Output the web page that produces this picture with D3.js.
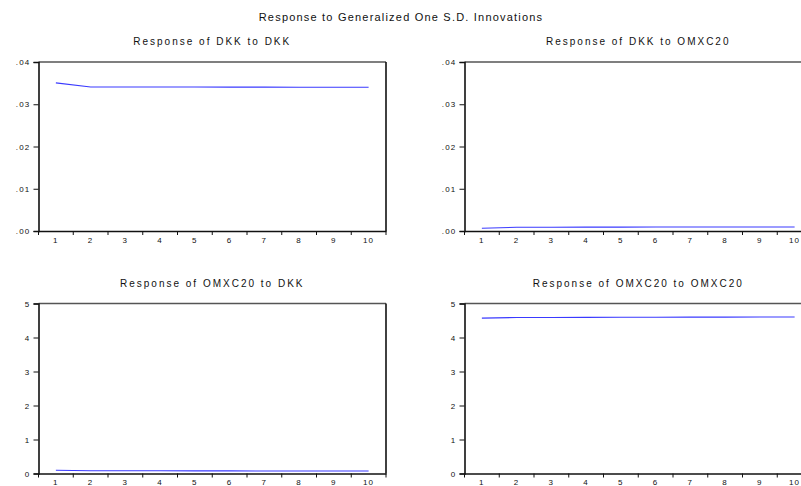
<!DOCTYPE html>
<html>
<head>
<meta charset="utf-8">
<script src="https://cdn.jsdelivr.net/npm/d3@7"></script>
<style>
  html, body { margin: 0; padding: 0; background: #fff; }
  svg { display: block; font-family: "Liberation Sans", Arial, sans-serif; }
</style>
</head>
<body>
<svg id="chart" width="801" height="486"></svg>
<script>
// Impulse response horizons
const periods = [1, 2, 3, 4, 5, 6, 7, 8, 9, 10];

// Responses to generalized one S.D. innovations
const dkkToDkk       = [0.03506, 0.03410, 0.03408, 0.03408, 0.03407, 0.03405, 0.03405, 0.03404, 0.03403, 0.03402];
const dkkToOmxc20    = [0.00065, 0.00088, 0.00090, 0.00091, 0.00092, 0.00093, 0.00094, 0.00094, 0.00095, 0.00096];
const omxc20ToDkk    = [0.095, 0.082, 0.080, 0.079, 0.077, 0.076, 0.075, 0.074, 0.073, 0.072];
const omxc20ToOmxc20 = [4.570, 4.588, 4.590, 4.592, 4.594, 4.596, 4.598, 4.600, 4.602, 4.604];

// Axis ticks
const ticksSmall = [0, 0.01, 0.02, 0.03, 0.04];
const ticksLarge = [0, 1, 2, 3, 4, 5];

const mainTitle = "Response to Generalized One S.D. Innovations";

const panels = [
  { title: "Response of DKK to DKK",       values: dkkToDkk,       ticks: ticksSmall, domain: [0, 0.04], fmt: d => d3.format(".2f")(d).replace(/^0/, ""), col: 0, row: 0 },
  { title: "Response of DKK to OMXC20",    values: dkkToOmxc20,    ticks: ticksSmall, domain: [0, 0.04], fmt: d => d3.format(".2f")(d).replace(/^0/, ""), col: 1, row: 0 },
  { title: "Response of OMXC20 to DKK",    values: omxc20ToDkk,    ticks: ticksLarge, domain: [0, 5],    fmt: d3.format("d"), col: 0, row: 1 },
  { title: "Response of OMXC20 to OMXC20", values: omxc20ToOmxc20, ticks: ticksLarge, domain: [0, 5],    fmt: d3.format("d"), col: 1, row: 1 }
];

const svg = d3.select("#chart");

svg.append("text")
  .attr("x", 401).attr("y", 21)
  .attr("text-anchor", "middle")
  .attr("font-size", 11)
  .attr("letter-spacing", 1.2)
  .attr("fill", "#111")
  .text(mainTitle);

const cellW = 426, plotW = 347.5;
const layout = [
  { top: 62,  height: 169 },
  { top: 303.5, height: 170 }
];

panels.forEach(p => {
  const x0 = 38.5 + p.col * cellW;
  const L = layout[p.row];
  const g = svg.append("g").attr("transform", `translate(${x0},${L.top})`);

  const x = d3.scaleBand().domain(periods).range([0, plotW]).padding(0);
  const y = d3.scaleLinear().domain(p.domain).range([L.height, 0]);

  // subplot title
  g.append("text")
    .attr("x", plotW / 2).attr("y", -17)
    .attr("text-anchor", "middle")
    .attr("font-size", 10)
    .attr("letter-spacing", 2)
    .attr("fill", "#111")
    .text(p.title);

  // frame: top and right
  g.append("line").attr("x1", 0).attr("x2", plotW).attr("y1", 0).attr("y2", 0)
    .attr("stroke", "#555").attr("stroke-width", 1.6);
  g.append("line").attr("x1", plotW).attr("x2", plotW).attr("y1", 0).attr("y2", L.height)
    .attr("stroke", "#111").attr("stroke-width", 1.6);

  // y axis
  const ya = g.append("g").call(d3.axisLeft(y).tickValues(p.ticks).tickFormat(p.fmt).tickSize(5).tickPadding(3));
  ya.select(".domain").attr("stroke", "#111").attr("stroke-width", 1.6);
  ya.selectAll(".tick line").attr("stroke", "#111").attr("stroke-width", 1);
  ya.selectAll("text").attr("font-size", 8).attr("letter-spacing", 1.2)
    .attr("font-family", "Liberation Sans, Arial, sans-serif").attr("fill", "#111");

  // x axis: labels centred in each period, ticks at period boundaries
  const xa = g.append("g").attr("transform", `translate(0,${L.height})`)
    .call(d3.axisBottom(x).tickSize(0).tickPadding(6));
  xa.select(".domain").attr("stroke", "#111").attr("stroke-width", 1.6);
  xa.selectAll("text").attr("font-size", 8).attr("letter-spacing", 1.2)
    .attr("font-family", "Liberation Sans, Arial, sans-serif").attr("fill", "#111");

  const bounds = periods.map(d => x(d)).concat([x(periods[periods.length - 1]) + x.bandwidth()]);
  g.append("g").selectAll("line").data(bounds).join("line")
    .attr("x1", d => d).attr("x2", d => d)
    .attr("y1", L.height).attr("y2", L.height + 4)
    .attr("stroke", "#111").attr("stroke-width", 1);

  // response line
  const line = d3.line()
    .x((d, i) => x(periods[i]) + x.bandwidth() / 2)
    .y(d => y(d));
  g.append("path").datum(p.values)
    .attr("d", line)
    .attr("fill", "none")
    .attr("stroke", "#3a3aff")
    .attr("stroke-width", 1.1);
});
</script>
</body>
</html>
